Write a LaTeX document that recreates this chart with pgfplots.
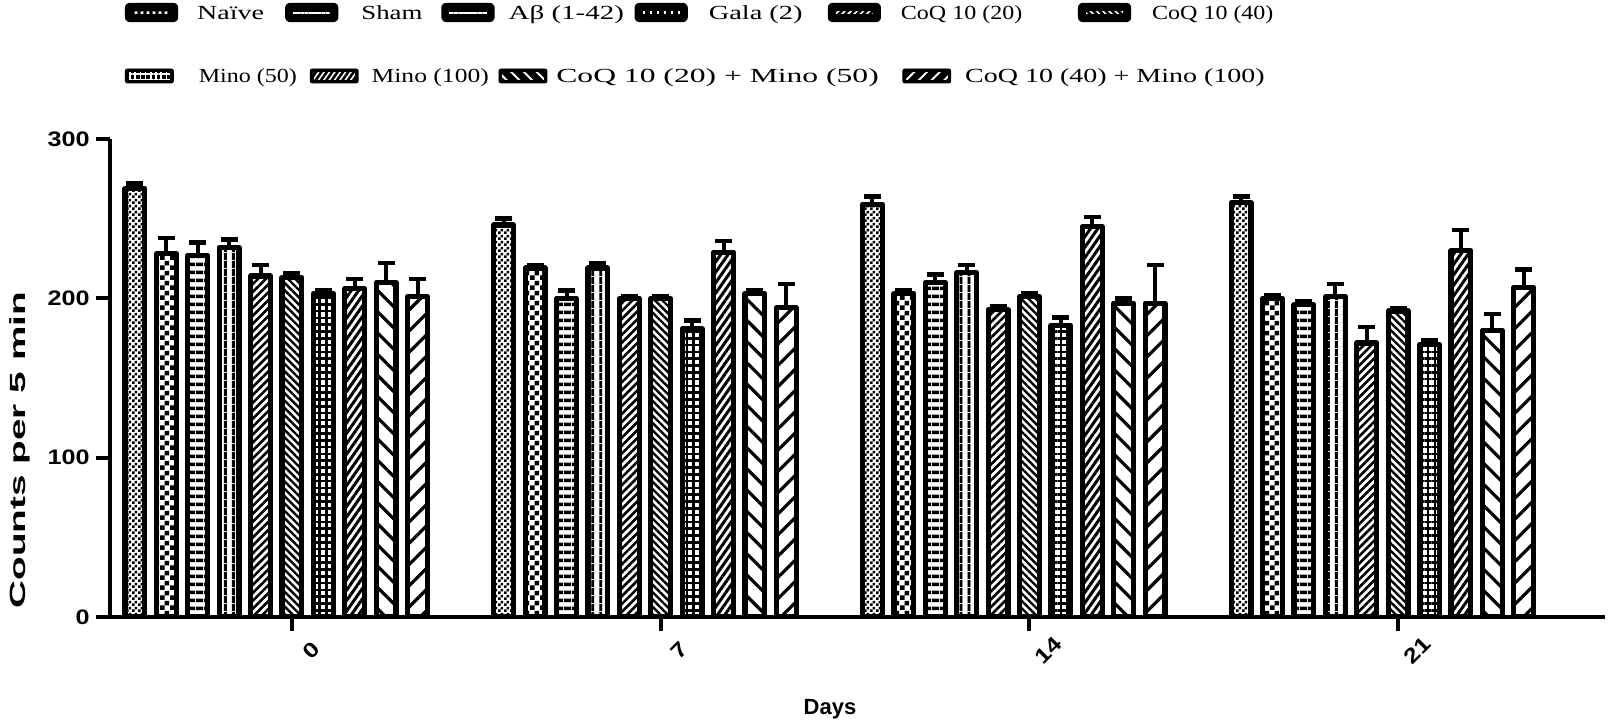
\documentclass[border=0pt]{standalone}
\usepackage{fontspec}
\setmainfont{Liberation Serif}
\newfontfamily\legfont{Liberation Serif}
\newfontfamily\axfont[FakeStretch=1.2]{Liberation Sans}
\newfontfamily\plainsans{Liberation Sans}
\newfontfamily\ylabfont[FakeStretch=1.76]{Liberation Sans}
\usepackage{graphicx}
\usepackage{pgfplots}
\pgfplotsset{compat=1.18}
\usepackage{pgfplotstable}
\usetikzlibrary{patterns,patterns.meta}

\tikzdeclarepattern{name=finecheck, type=uncolored,
  bottom left={(0pt,0pt)}, top right={(3pt,3pt)}, tile size={(3pt,3pt)},
  code={\fill (0pt,0pt) rectangle (1.5pt,1.5pt); \fill (1.5pt,1.5pt) rectangle (3pt,3pt);}}
\tikzdeclarepattern{name=coarsecheck, type=uncolored,
  bottom left={(0pt,0pt)}, top right={(5pt,5pt)}, tile size={(5pt,5pt)},
  code={\fill (0pt,0pt) rectangle (2.5pt,2.5pt); \fill (2.5pt,2.5pt) rectangle (5pt,5pt);}}

\pgfplotstableread{
x  a   ae  b   be  c   ce  d   de  e   ee  f   fe  g   ge  h   he  i   ie  j   je
0  269 3   228 10  227 8   232 5   214 7   213 3   203 2   206 6   210 12  201 11
1  246 4   219 2   200 5   219 3   200 1.5 200 1.5 181 5   229 7   203 2   194 15
2  259 5   203 2   210 5   216 5   193 2   201 2   183 5   245 6   197 3   197 24
3  260 4   200 2   196 2   201 8   172 10  192 2   171 3   230 13  180 10  207 11
}\data

\newcommand{\legsw}[1]{%
  \fill[black,rounded corners=1pt] (0pt,-3.5pt) rectangle (24pt,3.5pt);
  \fill[pattern={#1},pattern color=white] (1.4pt,-2.1pt) rectangle (22.6pt,2.1pt);}
\newcommand{\lt}[4]{\makebox[#1][l]{\hspace*{#2}\scalebox{#3}[1]{#4}}}

\pgfplotsset{
 bb/.style={ybar, bar width=9.9pt, draw=black, line width=2.6pt, line join=round, mark=none,
   bar shift=#1,
   error bars/y dir=plus, error bars/y explicit,
   error bars/error bar style={xshift=#1, line width=2pt, black},
   error bars/error mark options={rotate=90, mark size=4.25pt, line width=2.2pt, black}},
 s1/.style={pattern=finecheck, legend image code/.code={\legsw{finecheck}}},
 s2/.style={pattern=coarsecheck, legend image code/.code={\legsw{Lines[angle=0,distance=2.1pt,line width=0.9pt]}}},
 s3/.style={pattern={Lines[angle=0,distance=4pt,line width=1.9pt]}, legend image code/.code={\legsw{Lines[angle=0,distance=2.4pt,line width=1pt]}}},
 s4/.style={pattern={Lines[angle=90,distance=4pt,line width=1.7pt]}, legend image code/.code={\legsw{Lines[angle=90,distance=3.5pt,line width=1.2pt]}}},
 s5/.style={pattern={Lines[angle=45,distance=2.8pt,line width=1.3pt]}, legend image code/.code={\legsw{Lines[angle=45,distance=2.2pt,line width=0.8pt]}}},
 s6/.style={pattern={Lines[angle=-45,distance=2.6pt,line width=1.2pt]}, legend image code/.code={\legsw{Lines[angle=-45,distance=2.2pt,line width=0.8pt]}}},
 s7/.style={pattern={Hatch[angle=0,distance=3.4pt,line width=1.3pt]}, legend image code/.code={\legsw{Hatch[angle=0,distance=2.6pt,line width=0.8pt]}}},
 s8/.style={pattern={Lines[angle=55,distance=3pt,line width=1.5pt]}, legend image code/.code={\legsw{Lines[angle=55,distance=2.2pt,line width=0.8pt]}}},
 s9/.style={pattern={Lines[angle=-45,distance=7.5pt,line width=1.6pt]}, legend image code/.code={\legsw{Lines[angle=-45,distance=4.5pt,line width=1pt]}}},
 s10/.style={pattern={Lines[angle=45,distance=7.5pt,line width=1.6pt]}, legend image code/.code={\legsw{Lines[angle=45,distance=4.5pt,line width=1pt]}}},
 leg/.style={legend columns=-1, legend cell align=left,
   legend style={anchor=west, draw=none, fill=none, inner sep=0pt, outer sep=0pt,
     nodes={inner sep=0pt, text depth=0pt}, cells={anchor=west},
     font=\legfont\fontsize{10}{12}\selectfont, /tikz/column sep=0pt}},
}

\begin{document}
\begin{tikzpicture}
\path[use as bounding box] (0pt,0pt) rectangle (805pt,359.5pt);
\begin{axis}[name=ax, at={(55pt,51pt)}, anchor=south west, scale only axis,
  width=747.5pt, height=239pt,
  xmin=-0.4936, xmax=3.5611, ymin=0, ymax=300,
  axis x line*=bottom, axis y line*=left,
  axis line style={-, line width=2pt},
  xtick={0,1,2,3}, xticklabels={0,7,14,21}, ytick={0,100,200,300},
  tick align=outside, major tick length=7pt, minor tick num=0,
  tick style={line width=2pt, black},
  /pgf/number format/assume math mode=true,
  ticklabel style={font=\axfont\bfseries\fontsize{10.5}{12}\selectfont},
  xticklabel style={rotate=45, anchor=center, yshift=-13.5pt},
  yticklabel style={anchor=east, inner sep=0pt, xshift=-3pt},
  xlabel={Days}, ylabel={Counts per 5 min},
  xlabel style={at={(axis description cs:0.4816,-0.193)}, anchor=center, inner sep=0pt, font=\plainsans\bfseries\fontsize{11}{13}\selectfont},
  ylabel style={at={(axis description cs:-0.0602,0.349)}, anchor=center, font=\ylabfont\bfseries\fontsize{11}{13}\selectfont},
  leg, legend style={at={(0.01003,1.2647)}},
]
\addplot[bb=-78.5pt, s1] table[x=x, y=a, y error=ae]{\data};
\addlegendentry{\lt{53.5pt}{9.5pt}{1.4}{Naïve}}
\addplot[bb=-62.8pt, s2] table[x=x, y=b, y error=be]{\data};
\addlegendentry{\lt{51.5pt}{11.5pt}{1.34}{Sham}}
\addplot[bb=-47.1pt, s3] table[x=x, y=c, y error=ce]{\data};
\addlegendentry{\lt{70pt}{7pt}{1.45}{Aβ (1-42)}}
\addplot[bb=-31.4pt, s4] table[x=x, y=d, y error=de]{\data};
\addlegendentry{\lt{70pt}{10.5pt}{1.42}{Gala (2)}}
\addplot[bb=-15.7pt, s5] table[x=x, y=e, y error=ee]{\data};
\addlegendentry{\lt{98.5pt}{10pt}{1.2}{CoQ 10 (20)}}
\addplot[bb=0pt, s6] table[x=x, y=f, y error=fe]{\data};
\addlegendentry{\lt{80pt}{10.5pt}{1.2}{CoQ 10 (40)}}
\addplot[bb=15.7pt, s7] table[x=x, y=g, y error=ge]{\data};
\addplot[bb=31.4pt, s8] table[x=x, y=h, y error=he]{\data};
\addplot[bb=47.1pt, s9] table[x=x, y=i, y error=ie]{\data};
\addplot[bb=62.8pt, s10] table[x=x, y=j, y error=je]{\data};
\end{axis}
\begin{axis}[at={(55pt,51pt)}, anchor=south west, scale only axis,
  width=747.5pt, height=239pt, hide axis, xmin=0, xmax=1, ymin=0, ymax=1,
  leg, legend style={at={(0.01003,1.1318)}}]
\addlegendimage{s7}
\addlegendentry{\lt{68pt}{12.5pt}{1.2}{Mino (50)}}
\addlegendimage{s8}
\addlegendentry{\lt{70pt}{6.5pt}{1.28}{Mino (100)}}
\addlegendimage{s9}
\addlegendentry{\lt{177.5pt}{4.5pt}{1.58}{CoQ 10 (20) + Mino (50)}}
\addlegendimage{s10}
\addlegendentry{\lt{170pt}{7pt}{1.4}{CoQ 10 (40) + Mino (100)}}
\end{axis}
\end{tikzpicture}
\end{document}
